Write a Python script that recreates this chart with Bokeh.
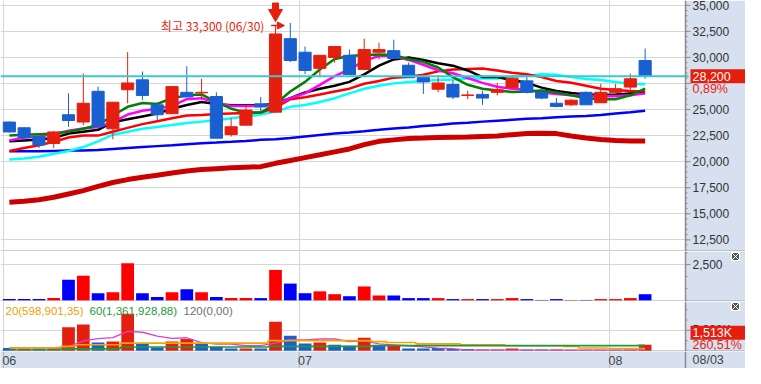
from bokeh.plotting import figure
from bokeh.layouts import column
from bokeh.models import (Range1d, FixedTicker, Span, Label, Arrow, NormalHead,
                          ColumnDataSource, Grid, BoxAnnotation)
from bokeh.core.properties import value
from bokeh.embed import file_html
from bokeh.resources import INLINE

# ---------------- data ----------------
opens = [23800, 23250, 22400, 21750, 24500, 23800, 26750, 23150, 26900, 27850,
         25450, 24600, 26650, 26600, 26250, 22600, 23500, 25550, 24750, 31800,
         30500, 28950, 30000, 30200, 28850, 30500, 30650, 29250, 28100, 26950,
         27400, 26350, 26450, 26650, 27100, 27750, 26650, 25600, 25450, 26650,
         25650, 26650, 27150, 29700]
highs = [23850, 23300, 22450, 22950, 26550, 28450, 27200, 25700, 30500, 28650,
         25700, 27200, 29150, 27950, 26650, 24150, 25450, 26200, 33000, 33300,
         31050, 30200, 31050, 30750, 31800, 31400, 31700, 29500, 28100, 28300,
         27800, 26800, 26800, 27550, 28300, 28300, 27050, 26100, 26000, 26750,
         27450, 27450, 28450, 30850]
lows = [22800, 22050, 21300, 21300, 23350, 23500, 23350, 22150, 25600, 25900,
        23950, 24600, 26200, 25950, 22250, 22400, 23500, 24750, 24750, 29550,
        28400, 28100, 29500, 28350, 28850, 29800, 29900, 28050, 26500, 26650,
        26000, 26000, 25450, 26350, 27100, 26550, 26000, 25200, 25350, 25450,
        25650, 26650, 26900, 27950]
closes = [22850, 22300, 21600, 22850, 23950, 25600, 23350, 25700, 27550, 26350,
          24500, 27200, 26200, 26650, 22250, 23350, 24950, 25250, 32250, 29700,
          28750, 30200, 31050, 28350, 30750, 30750, 29900, 28050, 27650, 27550,
          26200, 26400, 26100, 26900, 28000, 26650, 26100, 25300, 25900, 25450,
          26650, 27000, 27950, 28200]

ma_green = [22500, 22590, 22640, 22690, 22870, 23150, 23510, 24430, 25260, 25630,
            25530, 26090, 26360, 26450, 25720, 25080, 24710, 24710, 25530, 26730,
            27650, 28840, 29850, 30130, 30220, 30270, 30220, 29850, 29580, 29030,
            28110, 27370, 27000, 26820, 26680, 26730, 26820, 26640, 26360, 26090,
            25990, 25990, 26360, 27000]
ma_magenta = [22040, 22320, 22410, 22640, 22960, 23190, 23330, 23790, 24520, 24890,
              25080, 25350, 25990, 26090, 25630, 25350, 25350, 25350, 25440, 26090,
              26550, 27370, 28200, 28840, 29670, 30130, 30130, 29760, 29300, 28750,
              28480, 28020, 27560, 27190, 27000, 26910, 26640, 26500, 26360, 26270,
              26270, 26270, 26360, 26550]
ma_black = [21950, 22040, 22130, 22270, 22690, 22870, 23050, 23790, 24060, 24340,
            24620, 25080, 25440, 25720, 25530, 25400, 25400, 25400, 25580, 26090,
            26640, 27000, 27280, 27650, 28380, 29210, 29810, 29990, 29760, 29440,
            29210, 28750, 28110, 28110, 27830, 27560, 27100, 26780, 26590, 26450,
            26410, 26450, 26550, 26590]
ma_red = [21030, 21310, 21580, 21900, 22320, 22500, 22500, 22870, 23240, 23600,
          23880, 24160, 24430, 24480, 24570, 24620, 24660, 24710, 25170, 25990,
          26180, 26450, 26730, 27000, 27470, 27740, 28060, 28150, 28340, 28660,
          28840, 28890, 28930, 28750, 28520, 28380, 28110, 27740, 27560, 27280,
          27000, 26870, 26780, 26730]
ma_cyan = [20200, 20300, 20480, 20760, 21030, 21400, 21950, 22590, 22870, 23150,
           23330, 23510, 23700, 23840, 23970, 24160, 24340, 24520, 24800, 25260,
           25440, 25720, 26090, 26550, 27000, 27280, 27510, 27650, 27740, 27830,
           27880, 27970, 27970, 27970, 28150, 28250, 28380, 28340, 28110, 27920,
           27830, 27650, 27470, 27420]
ma_blue = [20990, 20990, 21000, 21030, 21060, 21060, 21120, 21220, 21310, 21400,
           21490, 21580, 21680, 21770, 21830, 21900, 21980, 22090, 22160, 22270,
           22410, 22550, 22690, 22800, 22920, 23050, 23190, 23280, 23420, 23510,
           23650, 23740, 23840, 23930, 24020, 24110, 24160, 24250, 24340, 24390,
           24480, 24620, 24750, 24890]
ma_darkred = [16110, 16210, 16350, 16580, 16900, 17220, 17630, 18000, 18280, 18500,
              18690, 18920, 19100, 19240, 19330, 19420, 19470, 19520, 19840, 20110,
              20390, 20660, 20940, 21220, 21630, 21950, 22090, 22230, 22270, 22320,
              22350, 22360, 22410, 22460, 22590, 22690, 22730, 22690, 22460, 22270,
              22130, 22040, 21980, 21980]

volume = [100, 100, 100, 170, 1450, 1720, 510, 570, 2600, 510,
          240, 570, 780, 570, 240, 170, 170, 170, 2130, 1180,
          510, 640, 440, 300, 980, 350, 350, 170, 170, 170,
          100, 100, 100, 100, 170, 100, 40, 100, 40, 40,
          100, 100, 170, 440]

p3_vals = [740, 580, 580, 740, 5770, 6400, 2050, 2280, 9020, 1810,
           880, 2280, 2910, 1810, 1050, 580, 580, 580, 7090, 3680,
           1810, 2050, 1510, 1280, 3210, 1280, 1280, 580, 580, 740,
           510, 510, 350, 350, 580, 350, 350, 350, 280, 280,
           280, 280, 350, 1513]
p3_up = [0, 1, 0, 1, 1, 1, 0, 1, 1, 0,
         0, 1, 1, 0, 0, 0, 1, 0, 1, 0,
         0, 1, 0, 0, 1, 0, 1, 0, 0, 0,
         0, 0, 1, 1, 1, 0, 0, 1, 1, 1,
         1, 0, 1, 1]
p3_ma5 = [740, 740, 740, 740, 1050, 2440, 3020, 3260, 4770, 4540,
          3600, 3070, 3210, 2050, 1670, 1670, 1280, 1280, 1910, 2670,
          2670, 2910, 2910, 2280, 2440, 1740, 1510, 1280, 980, 700,
          580, 230, 230, 230, 230, 230, 230, 230, 230, 230,
          230, 230, 230, 350]
p3_ma20 = [740, 740, 740, 740, 1120, 1510, 1510, 1510, 1910, 1910,
           1910, 1910, 1910, 1910, 1910, 1910, 1910, 1910, 2510, 2510,
           2510, 2510, 2510, 2510, 2510, 2280, 2050, 2050, 1740, 1740,
           1740, 1510, 1510, 1510, 1280, 1280, 1280, 1280, 1120, 740,
           740, 620, 620, 599]
p3_ma60 = [230, 230, 230, 230, 510, 510, 510, 510, 980, 980,
           980, 980, 980, 980, 980, 980, 980, 980, 1120, 1120,
           1120, 1120, 1120, 1120, 1120, 1300, 1300, 1300, 1300, 1300,
           1300, 1300, 1300, 1300, 1300, 1300, 1300, 1300, 1300, 1300,
           1300, 1300, 1300, 1362]

month_starts = [0, 20, 41]
month_labels = ["06", "07", "08"]
last_date = "08/03"
high_date = "06/30"
price_ticks = [12500, 15000, 17500, 20000, 22500, 25000, 27500, 30000, 32500, 35000]
vol_ticks = [2500]
vol_minor = [0, 833, 1667, 3333]
p3_ticks = [5000]
p3_minor = [0, 2500, 7500, 10000]
p3_legend = ["20(598,901,35)", "60(1,361,928,88)", "120(0,00)"]
p3_pct_text = "260,51%"

# ---------------- styling / geometry ----------------
RED = "#e61e0e"
BLUE = "#1a5fd0"
VRED = "#ff0000"
VBLUE = "#0000ff"
AXBG = "#d6e0ee"
GRID = "#d6d6d6"
AXLINE = "#8c8c8c"
SEP = "#a0a0a0"
FONT = "Liberation Sans"
W = 745            # whole width
PLOT_W = 685       # width of the chart part (left of the value panel)
X0 = -0.6
X_SEP = 45.73
U = PLOT_W / (X_SEP - X0)        # pixels per candle
X_END = X0 + W / U

n = len(closes)
idx = list(range(n))
x_range = Range1d(X0, X_END)
boundaries = [s - 0.4 for s in month_starts]


def make_fig(height, y_range):
    p = figure(width=W, height=height, x_range=x_range, y_range=y_range,
               output_backend="svg", toolbar_location=None,
               x_axis_location=None, y_axis_location=None,
               min_border_left=0, min_border_right=0, min_border_top=0,
               min_border_bottom=0, border_fill_color="white",
               background_fill_color="white", outline_line_color=None)
    p.grid.visible = False
    return p


def value_panel(p, y_range, ticks, minor, labels):
    """grid, light-blue value panel on the right with ticks and labels"""
    p.add_layout(Grid(dimension=0, ticker=FixedTicker(ticks=boundaries),
                      grid_line_color=GRID, grid_line_width=1))
    p.add_layout(Grid(dimension=1, ticker=FixedTicker(ticks=ticks),
                      grid_line_color=GRID, grid_line_width=1))
    p.add_layout(BoxAnnotation(left=X_SEP, fill_color=AXBG, fill_alpha=1,
                               line_color=None, level="underlay"))
    p.add_layout(Span(location=X_SEP, dimension="height", line_color=AXLINE, line_width=1.5))
    k = len(ticks)
    m = len(minor)
    p.segment(x0=[X_SEP] * k, y0=ticks, x1=[X_SEP + 5 / U] * k, y1=ticks,
              line_color=AXLINE, line_width=1)
    p.segment(x0=[X_SEP] * m, y0=minor, x1=[X_SEP + 2 / U] * m, y1=minor,
              line_color=AXLINE, line_width=1)
    p.text(x=[X_SEP + 7 / U] * k, y=ticks, text=labels, text_font=value(FONT),
           text_font_size="12px", text_color="#333333", text_align="left",
           text_baseline="middle")
    # bottom separator
    p.add_layout(Span(location=y_range.start, dimension="width", line_color=SEP, line_width=2))


def value_box(p, y, text, ypx, pad_right):
    """red box with white text in the value panel (e.g. current price)"""
    p.quad(left=[X_SEP + 5 / U], right=[X_SEP + (5 + pad_right) / U],
           top=[y + 7 * ypx], bottom=[y - 7 * ypx], fill_color=RED, line_color=None)
    p.text(x=[X_SEP + 7 / U], y=[y], text=[text], text_font=value(FONT),
           text_font_size="12.5px", text_color="white", text_align="left",
           text_baseline="middle")


up = [c >= o for o, c in zip(opens, closes)]
src = ColumnDataSource(dict(
    x=idx, h=highs, l=lows,
    top=[max(o, c) for o, c in zip(opens, closes)],
    bot=[min(o, c) for o, c in zip(opens, closes)],
    col=[RED if u else BLUE for u in up],
    vcol=[VRED if u else VBLUE for u in up],
    vol=volume,
    p3=p3_vals,
    p3col=[RED if u else BLUE for u in p3_up],
))

# ---------------- main price panel ----------------
H1 = 251
price_range = Range1d(11381, 35460)
p1 = make_fig(H1, price_range)
ppx = (price_range.end - price_range.start) / H1   # price per pixel
last = closes[-1]
# the tick label hidden behind the current-price box is left out
price_labels = [f"{t:,}" if abs(t - last) > 10 * ppx else "" for t in price_ticks]
value_panel(p1, price_range, price_ticks, list(range(11500, 35500, 500)), price_labels)

for vals, col, lw in [(ma_darkred, "#cc0000", 5), (ma_blue, "#0000ff", 2.5),
                      (ma_cyan, "#00ffff", 2.5), (ma_red, "#ff0000", 2.5),
                      (ma_black, "#000000", 2.5), (ma_magenta, "#ff00ff", 2.5),
                      (ma_green, "#008000", 2.5)]:
    p1.line(idx, vals, line_color=col, line_width=lw)

p1.segment(x0="x", y0="h", x1="x", y1="l", line_color="col", line_width=1, source=src)
p1.vbar(x="x", width=0.82, top="top", bottom="bot", fill_color="col",
        line_color="col", line_width=1, source=src)

p1.segment(x0=[X0], y0=[last], x1=[X_SEP + 3 / U], y1=[last], line_color="#3cc8cc", line_width=2)

# highest price marker
hi = max(highs)
hi_i = highs.index(hi)
p1.text(x=[hi_i - 1.75], y=[hi - 2.5 * ppx], text=[f"최고 {hi:,} ({high_date})"],
        text_font=value("Noto Sans CJK KR"), text_font_size="12px",
        text_color=RED, text_align="right", text_baseline="middle")
p1.add_layout(Arrow(end=NormalHead(size=7, fill_color=RED, line_color=RED),
                    x_start=hi_i - 1.3, y_start=hi - 2.5 * ppx, x_end=hi_i - 0.4,
                    y_end=hi - 2.5 * ppx, line_color=RED, line_width=1.5))
p1.scatter(x=[hi_i - 1], y=[hi + 9.5 * ppx], marker="inverted_triangle", size=14,
           fill_color=RED, line_color=RED)
p1.scatter(x=[hi_i - 1], y=[hi + 17 * ppx], marker="square", size=6,
           fill_color=RED, line_color=RED)

pct = (closes[-1] / closes[-2] - 1) * 100
value_box(p1, last, f"{last:,}", ppx, 56)
p1.text(x=[X_SEP + 7 / U], y=[last - 13 * ppx], text=[f"{pct:.2f}%".replace(".", ",")],
        text_font=value(FONT), text_font_size="12.5px", text_color=RED,
        text_align="left", text_baseline="middle")

# ---------------- volume panel ----------------
H2 = 50
vol_range = Range1d(-68, 3414)
p2 = make_fig(H2, vol_range)
value_panel(p2, vol_range, vol_ticks, vol_minor, [f"{t:,}" for t in vol_ticks])
p2.vbar(x="x", width=0.86, top="vol", bottom=0, fill_color="vcol", line_color=None, source=src)
vpx = (vol_range.end - vol_range.start) / H2
p2.scatter(x=[X_SEP + 50 / U], y=[vol_range.end - 5 * vpx], marker="square_x", size=8,
           fill_color="#555555", line_color="white", line_width=1)

# ---------------- third panel ----------------
H3 = 50
p3_range = Range1d(-116, 11979)
p3 = make_fig(H3, p3_range)
value_panel(p3, p3_range, p3_ticks, p3_minor, [f"{t:,}K" for t in p3_ticks])
p3.vbar(x="x", width=0.86, top="p3", bottom=0, fill_color="p3col", line_color=None, source=src)
p3.line(idx, p3_ma5, line_color="#e040c8", line_width=1.3)
p3.step(idx, p3_ma20, mode="center", line_color="#f5a500", line_width=1.6)
p3.step(idx, p3_ma60, mode="center", line_color="#1f9a3a", line_width=1.6)
qpx = (p3_range.end - p3_range.start) / H3
p3.scatter(x=[X_SEP + 50 / U], y=[p3_range.end - 5 * qpx], marker="square_x", size=8,
           fill_color="#555555", line_color="white", line_width=1)

for txt, off, col in zip(p3_legend, [5, 89, 183], ["#f0a000", "#1f9a3a", "#707070"]):
    p3.add_layout(Label(x=X0, y=p3_range.end, x_offset=off, y_offset=-9,
                        text=txt, text_color=col, text_font=FONT,
                        text_font_size="11.5px", text_baseline="middle"))

value_box(p3, p3_vals[-1] + 12 * qpx, f"{p3_vals[-1]:,}K", qpx, 56)
p3.text(x=[X_SEP + 7 / U], y=[p3_vals[-1]], text=[p3_pct_text],
        text_font=value(FONT), text_font_size="12.5px", text_color=RED,
        text_align="left", text_baseline="middle")

# ---------------- date row ----------------
H4 = 17
p4 = make_fig(H4, Range1d(0, 1))
p4.background_fill_color = AXBG
p4.border_fill_color = AXBG
nb = len(boundaries)
p4.segment(x0=boundaries, y0=[0] * nb, x1=boundaries, y1=[1] * nb,
           line_color="#b4b4b4", line_width=1)
p4.add_layout(Span(location=X_SEP, dimension="height", line_color=AXLINE, line_width=1.5))
p4.text(x=month_starts, y=[0.5] * len(month_starts), text=month_labels,
        text_font=value(FONT), text_font_size="12.5px", text_color="#444444",
        text_align="center", text_baseline="middle")
p4.text(x=[X_SEP + 7 / U], y=[0.5], text=[last_date], text_font=value(FONT),
        text_font_size="12.5px", text_color="#444444", text_align="left",
        text_baseline="middle")

layout = column(p1, p2, p3, p4, spacing=0)
open("out.html", "w").write(file_html(layout, INLINE))
